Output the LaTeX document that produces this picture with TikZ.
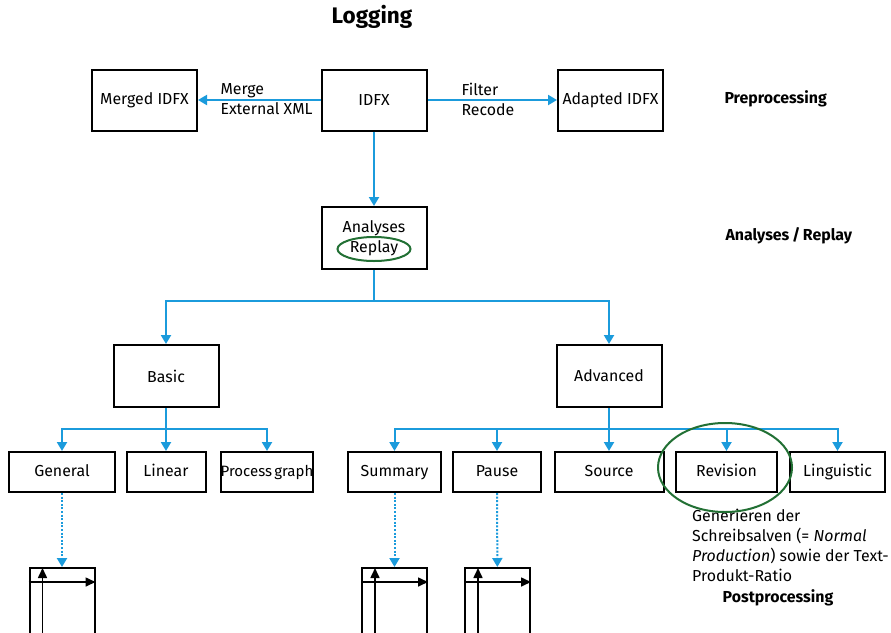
\documentclass[tikz,border=0pt]{standalone}
\usepackage{fontspec}
\setmainfont{Fira Sans}
\usetikzlibrary{arrows.meta}
\usetikzlibrary{positioning}

\definecolor{flowblue}{RGB}{27,155,220}
\definecolor{ringgreen}{RGB}{34,112,52}

\begin{document}
\fontsize{15.9}{20}\selectfont
\begin{tikzpicture}[x=1pt,y=-1pt,
  box/.style={draw,line width=2pt,rectangle,align=center,inner sep=1pt},
  bigbox/.style={box,minimum width=105pt,minimum height=61pt},
  smallbox/.style={box,minimum height=40pt,text height=1.55ex,text depth=0.45ex},
  line/.style={draw=flowblue,line width=2pt},
  flow/.style={line,-{Triangle[width=10pt,length=9pt]}},
  hint/.style={flow,dash pattern=on 2pt off 1.6pt},
  ring/.style={draw=ringgreen,line width=2pt},
  stage/.style={font=\bfseries,anchor=west},
  chart/.style={draw,line width=2pt,minimum width=65pt,minimum height=80pt,anchor=north,inner sep=0pt},
  axis/.style={line width=1.6pt,-{Triangle[width=9pt,length=10pt]}}]

  \clip (0,0) rectangle (891,632);
  \fill [white] (0,0) rectangle (891,632);

  % preprocessing
  \node [font=\fontsize{22.5}{26}\selectfont\bfseries] (title) at (372,17) {Logging};
  \node [bigbox] (merged)  at (144.5,100) {Merged IDFX};
  \node [bigbox] (idfx)    at (374,100)   {IDFX};
  \node [bigbox] (adapted) at (610.5,100) {Adapted IDFX};
  \node [anchor=west,align=left] (mergelbl)  at (215,99) {Merge\\External XML};
  \node [anchor=west,align=left] (filterlbl) at (456,99) {Filter\\Recode};

  % analyses
  \node [bigbox,minimum height=62pt] (analyses) at (374,238) {Analyses\\Replay};
  \node [bigbox,minimum height=62pt] (basic)    at (166,376) {Basic};
  \node [bigbox,minimum height=62pt] (advanced) at (609,376) {Advanced};

  % postprocessing
  \node [smallbox,minimum width=106pt] (general)    at (62,472)    {General};
  \node [smallbox,minimum width=79pt]  (linear)     at (166,472)   {Linear};
  \node [smallbox,minimum width=92pt,inner sep=0pt,
         font=\fontsize{15}{18}\selectfont] (procgraph) at (267,472) {Process\hspace{0.15em}graph};
  \node [smallbox,minimum width=93pt]  (summary)    at (394.5,472) {Summary};
  \node [smallbox,minimum width=88pt]  (pause)      at (497,472)   {Pause};
  \node [smallbox,minimum width=109pt] (source)     at (609,472)   {Source};
  \node [smallbox,minimum width=101pt] (revision)   at (726.5,472) {Revision};
  \node [smallbox,minimum width=95pt]  (linguistic) at (837.5,472) {Linguistic};

  \node [chart] (genchart) at (62,567)    {};
  \node [chart] (sumchart) at (394.5,567) {};
  \node [chart] (pauchart) at (497.5,567) {};

  \node [stage] (pre) at (719,99)  {Preprocessing};
  \node [stage] (ana) at (720,236) {Analyses\,/\,Replay};
  \node [font=\bfseries] (post) at (778,598) {Postprocessing};
  \node [anchor=north west,align=left,inner sep=0pt] (revnote) at (692,509)
    {Generieren der\\Schreibsalven (= \textit{Normal}\\\textit{Production}) sowie der Text-\\Produkt-Ratio};

  \coordinate (fork)      at (374,301);
  \coordinate (basicfork) at (166,429);
  \coordinate (advfork)   at (609,429);

  \draw [flow] (idfx) -- (merged);
  \draw [flow] (idfx) -- (adapted);
  \draw [flow] (idfx) -- (analyses);

  \draw [line] (analyses) -- (fork);
  \draw [flow] (fork) -| (basic);
  \draw [flow] (fork) -| (advanced);

  \draw [flow] (basic) -- (linear);
  \draw [flow] (basicfork) -| (general);
  \draw [flow] (basicfork) -| (procgraph);

  \draw [flow] (advanced) -- (source);
  \foreach \n in {summary,pause,revision,linguistic}
    \draw [flow] (advfork) -| (\n);

  \draw [hint] (general) -- (genchart);
  \draw [hint] (summary) -- (sumchart);
  \draw [hint] (pause)   -- (pauchart);

  \foreach \c in {genchart,sumchart,pauchart} {
    \draw [axis] ([yshift=-15pt]\c.north west) -- ([yshift=-15pt]\c.north east);
    \draw [axis] ([xshift=14pt]\c.south west) -- ([xshift=14pt,yshift=-1pt]\c.north west);
  }

  \draw [ring] (374,249) ellipse [x radius=36.5pt,y radius=12pt];
  \draw [ring] (725,467.5) ellipse [x radius=67pt,y radius=44.5pt];

\end{tikzpicture}
\end{document}
